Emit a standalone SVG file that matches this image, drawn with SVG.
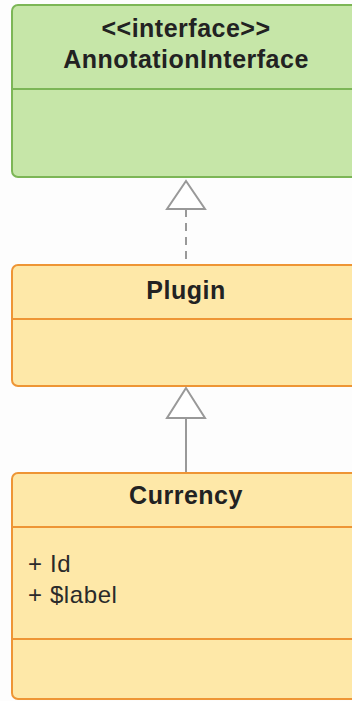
<svg xmlns="http://www.w3.org/2000/svg" width="352" height="701" viewBox="0 0 352 701">
<style>
.bg{fill:#fdfdfd}
.green{fill:#c6e6a8;stroke:#7cb656;stroke-width:2}
.orange{fill:#fee8a8;stroke:#ee9535;stroke-width:2}
.gdiv{stroke:#7cb656;stroke-width:2}
.odiv{stroke:#ee9535;stroke-width:2}
.title{font-family:"Liberation Sans",Arial,sans-serif;font-weight:bold;font-size:25px;letter-spacing:0.5px;fill:#222222;text-anchor:middle}
.attr{font-family:"Liberation Sans",Arial,sans-serif;font-size:24px;letter-spacing:0.6px;fill:#2a2a2a}
.conn{stroke:#999999;stroke-width:2;fill:none}
.head{fill:#ffffff;stroke:#999999;stroke-width:2}
</style>
<rect class="bg" x="0" y="0" width="352" height="701"/>
<g id="AnnotationInterface">
<rect class="green" x="12" y="5" width="360" height="172" rx="6"/>
<line class="gdiv" x1="12" y1="89" x2="372" y2="89"/>
<text class="title" x="186" y="37">&lt;&lt;interface&gt;&gt;</text>
<text class="title" x="186" y="68">AnnotationInterface</text>
</g>
<g id="Plugin">
<rect class="orange" x="12" y="265" width="360" height="121" rx="6"/>
<line class="odiv" x1="12" y1="319" x2="372" y2="319"/>
<text class="title" x="186" y="299">Plugin</text>
</g>
<g id="Currency">
<rect class="orange" x="12" y="473" width="360" height="226" rx="6"/>
<line class="odiv" x1="12" y1="527" x2="372" y2="527"/>
<line class="odiv" x1="12" y1="639" x2="372" y2="639"/>
<text class="title" x="186" y="504">Currency</text>
<text class="attr" x="28" y="572">+ Id</text>
<text class="attr" x="28" y="603">+ $label</text>
</g>
<g id="connectors">
<line class="conn" x1="186" y1="209" x2="186" y2="264" stroke-dasharray="8,6"/>
<polygon class="head" points="186,181 167,209 205,209"/>
<line class="conn" x1="186" y1="418" x2="186" y2="472"/>
<polygon class="head" points="186,388 167,418 205,418"/>
</g>
</svg>
